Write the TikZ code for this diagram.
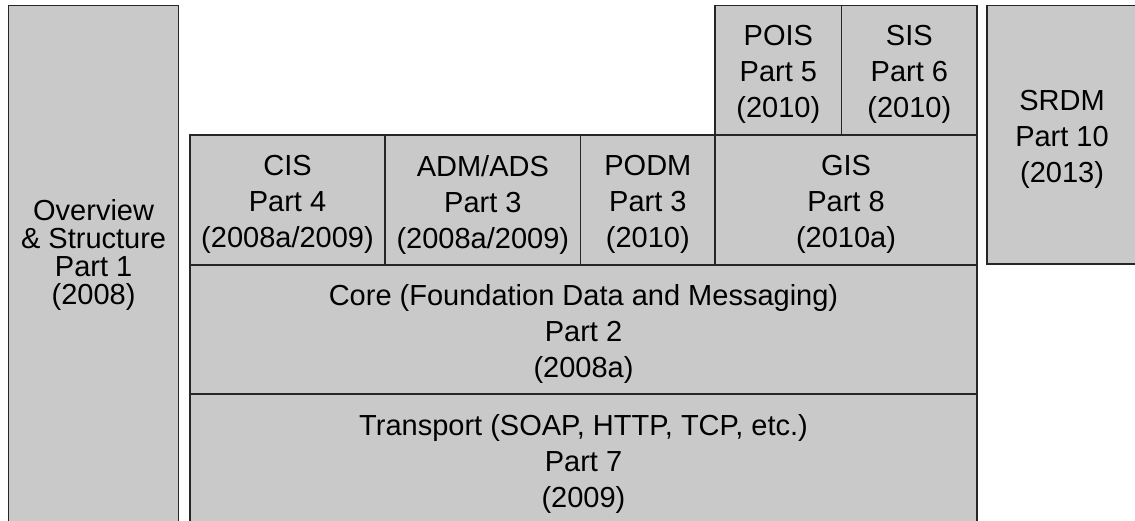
\documentclass[tikz,border=0pt]{standalone}
\usepackage{fontspec}
\setmainfont{Liberation Sans}
\begin{document}
\begin{tikzpicture}[x=1pt,y=-1pt,
  blk/.style={draw=black!85, line width=1.4pt, fill=black!21, rectangle,
    inner sep=0pt, outer sep=0pt},
  lbl/.style={align=center, inner sep=0pt, yshift=-4.5pt,
    font=\fontsize{29}{36}\selectfont},
  txt/.style={label={[lbl]center:#1}},
  ovtxt/.style={align=center, inner sep=0pt, yshift=10pt,
    font=\fontsize{29}{28}\selectfont}]
\useasboundingbox (0,0) rectangle (1135,520);

% left column
\node[blk, minimum width=170.2pt, minimum height=518.3pt,
  label={[ovtxt]center:Overview\\\& Structure\\Part 1\\(2008)}]
  (ov) at (93.6,264.85) {};

% upper row of the stack
\node[blk, minimum width=126.7pt, minimum height=129.3pt, txt={POIS\\Part 5\\(2010)}] (pois) at (778.35,70.35) {};
\node[blk, minimum width=135.3pt, minimum height=129.3pt, txt={SIS\\Part 6\\(2010)}] (sis) at (909.35,70.35) {};

% middle row of the stack
\node[blk, minimum width=195pt, minimum height=130pt, txt={CIS\\Part 4\\(2008a/2009)}] (cis) at (287.5,200) {};
\node[blk, minimum width=195.7pt, minimum height=130pt, txt={ADM/ADS\\Part 3\\(2008a/2009)}] (adm) at (482.85,200) {};
\node[blk, minimum width=134.3pt, minimum height=130pt, txt={PODM\\Part 3\\(2010)}] (podm) at (647.85,200) {};
\node[blk, minimum width=262pt, minimum height=130pt, txt={GIS\\Part 8\\(2010a)}] (gis) at (846,200) {};

% base layers
\node[blk, minimum width=787pt, minimum height=129pt, txt={Core (Foundation Data and Messaging)\\Part 2\\(2008a)}] (core) at (583.5,329.5) {};
\node[blk, minimum width=787pt, minimum height=130pt, txt={Transport (SOAP, HTTP, TCP, etc.)\\Part 7\\(2009)}] (tr) at (583.5,459) {};

% right column
\node[blk, minimum width=150pt, minimum height=258.3pt, txt={SRDM\\Part 10\\(2013)}] (srdm) at (1062,134.85) {};
\end{tikzpicture}
\end{document}
